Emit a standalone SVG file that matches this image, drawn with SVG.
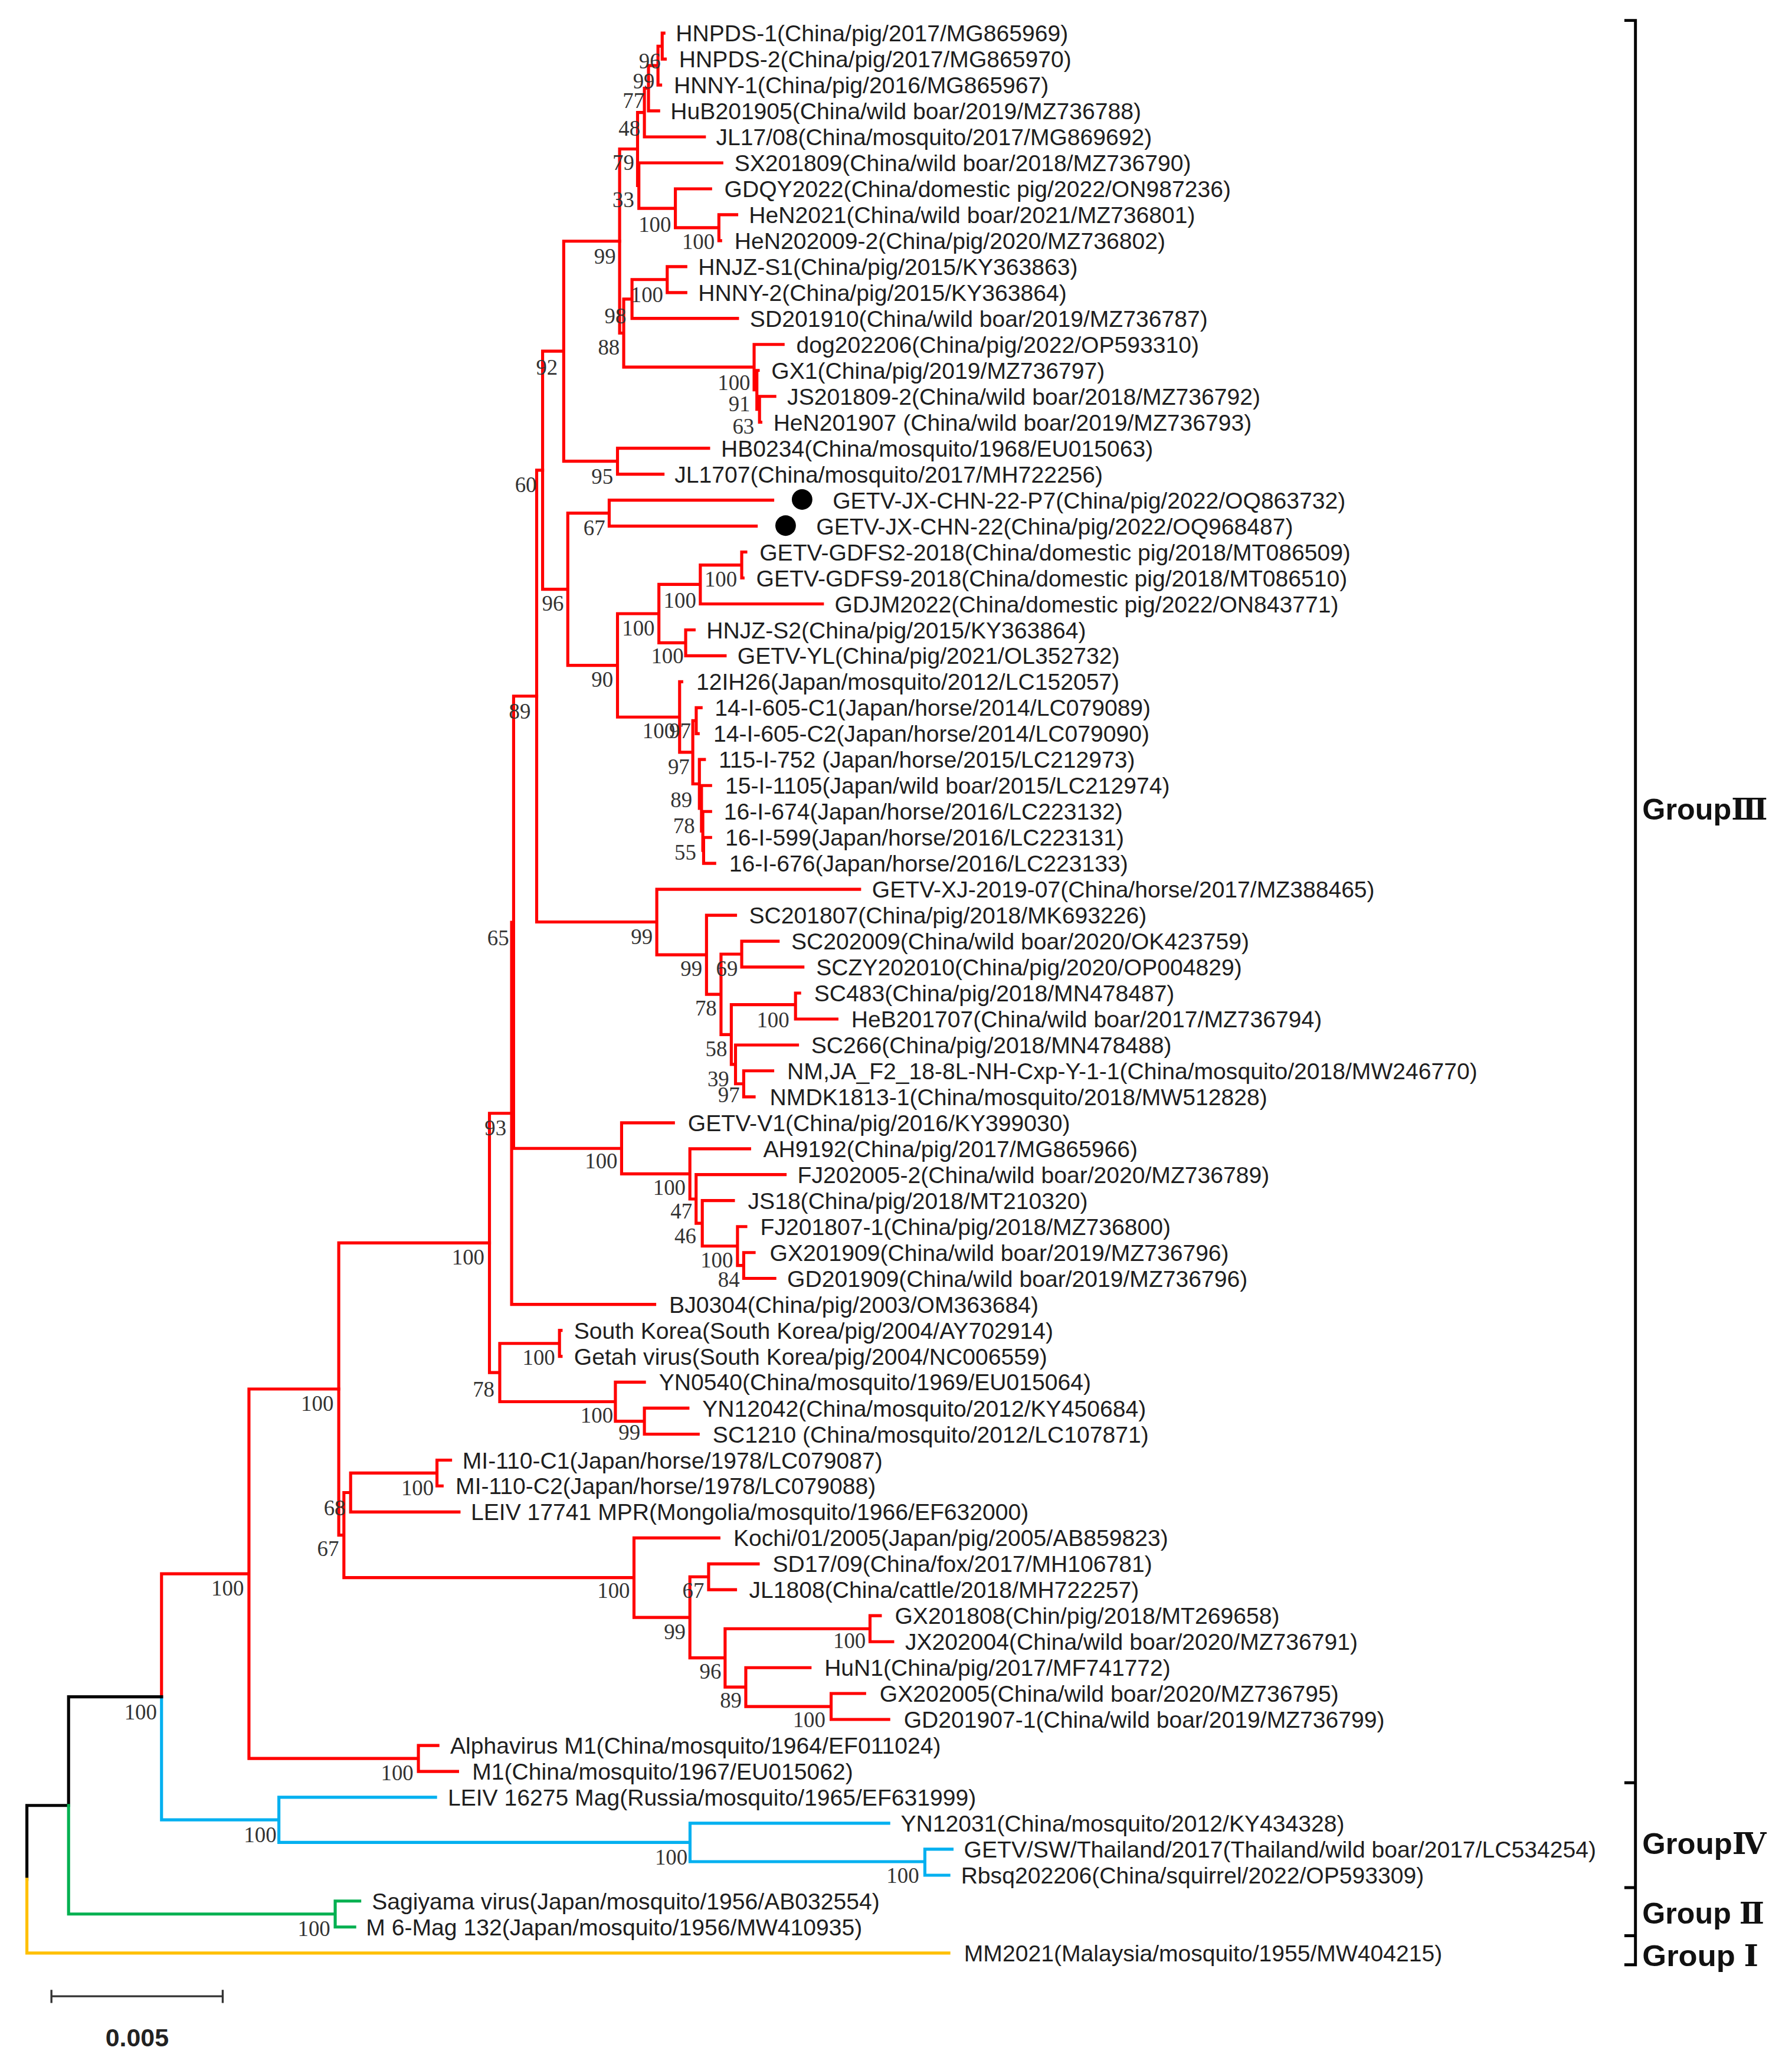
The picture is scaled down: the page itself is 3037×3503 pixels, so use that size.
<svg xmlns="http://www.w3.org/2000/svg" width="3037" height="3503" viewBox="0 0 3037 3503">
<style>
path{fill:none;stroke-width:2.3;stroke-linecap:square;stroke-linejoin:miter}
.r{stroke:#FF0000}.b{stroke:#00B0F0}.g{stroke:#00B050}.y{stroke:#FFC000}.k{stroke:#000}
.lf{font-family:"Liberation Sans",Arial,sans-serif;font-size:17.5px;fill:#1e1e1e}
.bs{font-family:"Liberation Serif","Times New Roman",serif;font-size:16.5px;fill:#333;text-anchor:end}
.grp{font-family:"Liberation Sans",Arial,"Noto Sans CJK SC",sans-serif;font-size:22.6px;font-weight:bold;fill:#111}
.num{font-family:"Liberation Serif","DejaVu Serif","Noto Sans CJK SC",serif}
.sc{font-family:"Liberation Sans",Arial,sans-serif;font-size:19.2px;font-weight:bold;fill:#222;text-anchor:middle}
</style>
<rect x="0" y="0" width="3037" height="3503" fill="#ffffff"/>
<g transform="scale(2.2347)">
<g id="connectors">
<path class="r" d="M502.2 25.1V44.8M502.2 25.1H503.5M502.2 44.8H504.5M499 35V64.5M499 35H502.2M499 64.5H501M491.8 49.7V84.1M491.8 49.7H499M491.8 84.1H499.5M488.7 66.9V103.8M488.7 66.9H491.8M488.7 103.8H534.2M483.5 85.3V140.7M483.5 85.3H488.7M483.5 140.7H484.5M484.5 123.5V158M484.5 123.5H547.4M484.5 158H512.2M512.2 143.2V172.7M512.2 143.2H538.9M512.2 172.7H545.2M545.2 162.8V182.5M545.2 162.8H558.7M545.2 182.5H546.5M469.9 113V252.6M469.9 113H483.5M469.9 252.6H473M473 226.8V278.4M473 226.8H479.3M473 278.4H571.9M479.3 212V241.5M479.3 212H506M479.3 241.5H559.3M506 202.2V221.9M506 202.2H520.1M506 221.9H520.1M571.9 261.2V295.7M571.9 261.2H593.9M571.9 295.7H574M574 280.9V310.4M574 280.9H575M574 310.4H576M576 300.6V320.2M576 300.6H587.6M576 320.2H577"/>
<path class="r" d="M427.5 182.9V349.75M427.5 182.9H469.9M427.5 349.75H468.3M468.3 339.9V359.6M468.3 339.9H537.4M468.3 359.6H502.8M411.5 266.3V446.9M411.5 266.3H427.5M411.5 446.9H430.6M430.6 389.15V504.6M430.6 389.15H462M430.6 504.6H468.3M462 379.3V399M462 379.3H586M462 399H573.5M468.3 465.4V543.8M468.3 465.4H499.7M468.3 543.8H515.4M499.7 443.2V487.5M499.7 443.2H531.1M499.7 487.5H520M531.1 428.5V458M531.1 428.5H562.5M531.1 458H623.7M562.5 418.6V438.3M562.5 418.6H565.6M562.5 438.3H563.5M520 477.7V497.3M520 477.7H526.4M520 497.3H549.9M515.4 517V570.5M515.4 517H517M515.4 570.5H525.4M525.4 546.5V594.5M525.4 546.5H528M525.4 594.5H530.4M528 536.7V556.4M528 536.7H531.7M528 556.4H529.5M530.4 576V613M530.4 576H534.2M530.4 613H532M532 595.7V630.2M532 595.7H538.9M532 630.2H533M533 615.4V644.9M533 615.4H538.9M533 644.9H533.6M533.6 635.1V654.7M533.6 635.1H538.9M533.6 654.7H542"/>
<path class="r" d="M407 356.6V699.2M407 356.6H411.5M407 699.2H498.1M498.1 674.4V724.1M498.1 674.4H651.9M498.1 724.1H535.8M535.8 694.1V754.1M535.8 694.1H557.8M535.8 754.1H546.8M546.8 723.6V784.6M546.8 723.6H562.5M546.8 784.6H554.6M562.5 713.8V733.4M562.5 713.8H590.1M562.5 733.4H608.9M554.6 761.9V807.2M554.6 761.9H603.3M554.6 807.2H557.8M603.3 753.1V772.8M603.3 753.1H606.4M603.3 772.8H634.7M557.8 792.5V821.9M557.8 792.5H604.8M557.8 821.9H564M564 812.1V831.8M564 812.1H586M564 831.8H571.9"/>
<path class="r" d="M389.5 527.9V870.9M389.5 527.9H407M389.5 870.9H471.4M471.4 851.5V890.2M471.4 851.5H510.7M471.4 890.2H523.2M523.2 871.2V909.3M523.2 871.2H568.5M523.2 909.3H527.9M527.9 890.8V927.7M527.9 890.8H595.4M527.9 927.7H532.6M532.6 910.5V945M532.6 910.5H556.2M532.6 945H559.3M559.3 930.2V959.7M559.3 930.2H565.6M559.3 959.7H564M564 949.9V969.5M564 949.9H571.9M564 969.5H587.6M388 699.4V989.2M388 699.4H389.5M388 989.2H496.5"/>
<path class="r" d="M371.2 844.3V1040.9M371.2 844.3H388M371.2 1040.9H379M379 1018.8V1063M379 1018.8H424.3M379 1063H466.7M424.3 1008.9V1028.6M424.3 1008.9H425.5M424.3 1028.6H425.5M466.7 1048.2V1077.8M466.7 1048.2H488.7M466.7 1077.8H488.7M488.7 1067.9V1087.6M488.7 1067.9H521.7M488.7 1087.6H529.5"/>
<path class="r" d="M256.9 942.6V1164.2M256.9 942.6H371.2M256.9 1164.2H260.8M260.8 1131.9V1196.4M260.8 1131.9H265.9M260.8 1196.4H480.8M265.9 1117.1V1146.6M265.9 1117.1H331.4M265.9 1146.6H348.1M331.4 1107.3V1126.9M331.4 1107.3H341.7M331.4 1126.9H335.3M480.8 1166.3V1226.6M480.8 1166.3H545.2M480.8 1226.6H523.2M523.2 1195.8V1257.3M523.2 1195.8H537.4M523.2 1257.3H549.9M537.4 1186V1205.6M537.4 1186H575M537.4 1205.6H557.8M549.9 1235.2V1279.4M549.9 1235.2H659.8M549.9 1279.4H565.6M659.8 1225.3V1245M659.8 1225.3H667.6M659.8 1245H677M565.6 1264.7V1294.2M565.6 1264.7H614.3M565.6 1294.2H630.3M630.3 1284.3V1304M630.3 1284.3H655.7M630.3 1304H674"/>
<path class="r" d="M188.8 1053.4V1333.55M188.8 1053.4H256.9M188.8 1333.55H317.3M317.3 1323.7V1343.4M317.3 1323.7H332.1M317.3 1343.4H347M122.5 1193.5V1286.8M122.5 1193.5H188.8"/>
<path class="b" d="M122.5 1286.8V1380.1H211.5M211.5 1363V1397.2M211.5 1363H330.3M211.5 1397.2H523.3M523.3 1382.7V1411.8M523.3 1382.7H674M523.3 1411.8H701.4M701.4 1402.4V1422.1M701.4 1402.4H722M701.4 1422.1H719.6"/>
<path class="k" d="M52 1286.8H122.5M52 1286.8V1369.2M20.4 1369.2H52M20.4 1369.2V1425.2"/>
<path class="g" d="M52 1369.2V1451.55H254.2M254.2 1441.7V1461.4M254.2 1441.7H272.8M254.2 1461.4H269"/>
<path class="y" d="M20.4 1425.2V1481.1H719.6"/>
</g>
<g id="markers">
<circle cx="608.3" cy="378.8" r="7.8" fill="#000"/>
<circle cx="595.8" cy="398.6" r="7.8" fill="#000"/>
</g>
<g id="leaves" class="lf">
<g id="n1"><text x="512.5" y="31.4">HNPDS-1(China/pig/2017/MG865969)</text></g>
<g id="n2"><text x="515" y="51.1">HNPDS-2(China/pig/2017/MG865970)</text></g>
<g id="n3"><text x="511" y="70.8">HNNY-1(China/pig/2016/MG865967)</text></g>
<g id="n4"><text x="508.5" y="90.4">HuB201905(China/wild boar/2019/MZ736788)</text></g>
<g id="n5"><text x="543" y="110.1">JL17/08(China/mosquito/2017/MG869692)</text></g>
<g id="n6"><text x="557" y="129.8">SX201809(China/wild boar/2018/MZ736790)</text></g>
<g id="n7"><text x="549.3" y="149.5">GDQY2022(China/domestic pig/2022/ON987236)</text></g>
<g id="n8"><text x="568" y="169.1">HeN2021(China/wild boar/2021/MZ736801)</text></g>
<g id="n9"><text x="557" y="188.8">HeN202009-2(China/pig/2020/MZ736802)</text></g>
<g id="n10"><text x="529.5" y="208.5">HNJZ-S1(China/pig/2015/KY363863)</text></g>
<g id="n11"><text x="529.5" y="228.2">HNNY-2(China/pig/2015/KY363864)</text></g>
<g id="n12"><text x="568.7" y="247.8">SD201910(China/wild boar/2019/MZ736787)</text></g>
<g id="n13"><text x="603.9" y="267.5">dog202206(China/pig/2022/OP593310)</text></g>
<g id="n14"><text x="585" y="287.2">GX1(China/pig/2019/MZ736797)</text></g>
<g id="n15"><text x="597" y="306.9">JS201809-2(China/wild boar/2018/MZ736792)</text></g>
<g id="n16"><text x="586.5" y="326.5">HeN201907 (China/wild boar/2019/MZ736793)</text></g>
<g id="n17"><text x="546.8" y="346.2">HB0234(China/mosquito/1968/EU015063)</text></g>
<g id="n18"><text x="511.6" y="365.9">JL1707(China/mosquito/2017/MH722256)</text></g>
<g id="n19"><text x="631.5" y="385.6">GETV-JX-CHN-22-P7(China/pig/2022/OQ863732)</text></g>
<g id="n20"><text x="619" y="405.3">GETV-JX-CHN-22(China/pig/2022/OQ968487)</text></g>
<g id="n21"><text x="576" y="424.9">GETV-GDFS2-2018(China/domestic pig/2018/MT086509)</text></g>
<g id="n22"><text x="573.5" y="444.6">GETV-GDFS9-2018(China/domestic pig/2018/MT086510)</text></g>
<g id="n23"><text x="633" y="464.3">GDJM2022(China/domestic pig/2022/ON843771)</text></g>
<g id="n24"><text x="535.8" y="484">HNJZ-S2(China/pig/2015/KY363864)</text></g>
<g id="n25"><text x="559.3" y="503.6">GETV-YL(China/pig/2021/OL352732)</text></g>
<g id="n26"><text x="528" y="523.3">12IH26(Japan/mosquito/2012/LC152057)</text></g>
<g id="n27"><text x="542" y="543">14-I-605-C1(Japan/horse/2014/LC079089)</text></g>
<g id="n28"><text x="541" y="562.7">14-I-605-C2(Japan/horse/2014/LC079090)</text></g>
<g id="n29"><text x="545" y="582.3">115-I-752 (Japan/horse/2015/LC212973)</text></g>
<g id="n30"><text x="550" y="602">15-I-1105(Japan/wild boar/2015/LC212974)</text></g>
<g id="n31"><text x="549" y="621.7">16-I-674(Japan/horse/2016/LC223132)</text></g>
<g id="n32"><text x="550" y="641.4">16-I-599(Japan/horse/2016/LC223131)</text></g>
<g id="n33"><text x="553" y="661">16-I-676(Japan/horse/2016/LC223133)</text></g>
<g id="n34"><text x="661.3" y="680.7">GETV-XJ-2019-07(China/horse/2017/MZ388465)</text></g>
<g id="n35"><text x="568.1" y="700.4">SC201807(China/pig/2018/MK693226)</text></g>
<g id="n36"><text x="600.1" y="720.1">SC202009(China/wild boar/2020/OK423759)</text></g>
<g id="n37"><text x="619" y="739.7">SCZY202010(China/pig/2020/OP004829)</text></g>
<g id="n38"><text x="617.4" y="759.4">SC483(China/pig/2018/MN478487)</text></g>
<g id="n39"><text x="645.6" y="779.1">HeB201707(China/wild boar/2017/MZ736794)</text></g>
<g id="n40"><text x="615.2" y="798.8">SC266(China/pig/2018/MN478488)</text></g>
<g id="n41"><text x="597" y="818.4">NM,JA_F2_18-8L-NH-Cxp-Y-1-1(China/mosquito/2018/MW246770)</text></g>
<g id="n42"><text x="583.8" y="838.1">NMDK1813-1(China/mosquito/2018/MW512828)</text></g>
<g id="n43"><text x="521.7" y="857.8">GETV-V1(China/pig/2016/KY399030)</text></g>
<g id="n44"><text x="578.8" y="877.5">AH9192(China/pig/2017/MG865966)</text></g>
<g id="n45"><text x="604.8" y="897.1">FJ202005-2(China/wild boar/2020/MZ736789)</text></g>
<g id="n46"><text x="567.2" y="916.8">JS18(China/pig/2018/MT210320)</text></g>
<g id="n47"><text x="576.6" y="936.5">FJ201807-1(China/pig/2018/MZ736800)</text></g>
<g id="n48"><text x="583.8" y="956.2">GX201909(China/wild boar/2019/MZ736796)</text></g>
<g id="n49"><text x="597" y="975.8">GD201909(China/wild boar/2019/MZ736796)</text></g>
<g id="n50"><text x="507.5" y="995.5">BJ0304(China/pig/2003/OM363684)</text></g>
<g id="n51"><text x="435.3" y="1015.2">South Korea(South Korea/pig/2004/AY702914)</text></g>
<g id="n52"><text x="435.3" y="1034.9">Getah virus(South Korea/pig/2004/NC006559)</text></g>
<g id="n53"><text x="499.7" y="1054.5">YN0540(China/mosquito/1969/EU015064)</text></g>
<g id="n54"><text x="532.6" y="1074.2">YN12042(China/mosquito/2012/KY450684)</text></g>
<g id="n55"><text x="540.5" y="1093.9">SC1210 (China/mosquito/2012/LC107871)</text></g>
<g id="n56"><text x="350.7" y="1113.6">MI-110-C1(Japan/horse/1978/LC079087)</text></g>
<g id="n57"><text x="345.5" y="1133.2">MI-110-C2(Japan/horse/1978/LC079088)</text></g>
<g id="n58"><text x="357.1" y="1152.9">LEIV 17741 MPR(Mongolia/mosquito/1966/EF632000)</text></g>
<g id="n59"><text x="556.2" y="1172.6">Kochi/01/2005(Japan/pig/2005/AB859823)</text></g>
<g id="n60"><text x="586" y="1192.3">SD17/09(China/fox/2017/MH106781)</text></g>
<g id="n61"><text x="568.1" y="1211.9">JL1808(China/cattle/2018/MH722257)</text></g>
<g id="n62"><text x="678.6" y="1231.6">GX201808(Chin/pig/2018/MT269658)</text></g>
<g id="n63"><text x="686.4" y="1251.3">JX202004(China/wild boar/2020/MZ736791)</text></g>
<g id="n64"><text x="625.2" y="1271">HuN1(China/pig/2017/MF741772)</text></g>
<g id="n65"><text x="667.1" y="1290.6">GX202005(China/wild boar/2020/MZ736795)</text></g>
<g id="n66"><text x="685.4" y="1310.3">GD201907-1(China/wild boar/2019/MZ736799)</text></g>
<g id="n67"><text x="341.4" y="1330">Alphavirus M1(China/mosquito/1964/EF011024)</text></g>
<g id="n68"><text x="358.1" y="1349.7">M1(China/mosquito/1967/EU015062)</text></g>
<g id="n69"><text x="339.6" y="1369.3">LEIV 16275 Mag(Russia/mosquito/1965/EF631999)</text></g>
<g id="n70"><text x="683.1" y="1389">YN12031(China/mosquito/2012/KY434328)</text></g>
<g id="n71"><text x="731" y="1408.7">GETV/SW/Thailand/2017(Thailand/wild boar/2017/LC534254)</text></g>
<g id="n72"><text x="728.8" y="1428.4">Rbsq202206(China/squirrel/2022/OP593309)</text></g>
<g id="n73"><text x="282" y="1448">Sagiyama virus(Japan/mosquito/1956/AB032554)</text></g>
<g id="n74"><text x="277.6" y="1467.7">M 6-Mag 132(Japan/mosquito/1956/MW410935)</text></g>
<g id="n75"><text x="731.1" y="1487.4">MM2021(Malaysia/mosquito/1955/MW404215)</text></g>
</g>
<g id="bootstrap" class="bs">
<text x="501" y="52">96</text><text x="496.5" y="67">99</text><text x="488.7" y="82">77</text><text x="485.6" y="103">48</text>
<text x="481" y="129">79</text><text x="481" y="157">33</text><text x="509" y="176">100</text><text x="542" y="189">100</text>
<text x="467" y="200">99</text><text x="503" y="229">100</text><text x="475" y="245">98</text><text x="470" y="269">88</text>
<text x="423" y="284">92</text><text x="569" y="296">100</text><text x="569" y="312">91</text><text x="572" y="329">63</text>
<text x="465" y="367">95</text><text x="407" y="373">60</text><text x="459" y="406">67</text><text x="559" y="445">100</text>
<text x="427.5" y="463">96</text><text x="528" y="461">100</text><text x="496.5" y="482">100</text><text x="518.5" y="503">100</text>
<text x="465" y="521">90</text><text x="402.5" y="545">89</text><text x="512" y="560">100</text><text x="524" y="560">97</text>
<text x="523" y="587">97</text><text x="525" y="612">89</text><text x="527" y="632">78</text><text x="528" y="652">55</text>
<text x="495" y="716">99</text><text x="386" y="717">65</text><text x="532.6" y="740">99</text><text x="559.5" y="740">69</text>
<text x="543.6" y="770">78</text><text x="598.6" y="779">100</text><text x="551.5" y="801">58</text><text x="553" y="824">39</text>
<text x="561" y="836">97</text><text x="384" y="861">93</text><text x="468.3" y="886">100</text><text x="520" y="906">100</text>
<text x="525" y="924">47</text><text x="528" y="943">46</text><text x="556" y="961">100</text><text x="561" y="976">84</text>
<text x="367.4" y="959">100</text><text x="421" y="1035">100</text><text x="375" y="1059">78</text><text x="465" y="1079">100</text>
<text x="485.6" y="1092">99</text><text x="253" y="1070">100</text><text x="329" y="1134">100</text><text x="262" y="1149">68</text>
<text x="257" y="1180">67</text><text x="477.7" y="1212">100</text><text x="534" y="1212">67</text><text x="520" y="1243">99</text>
<text x="656.6" y="1250">100</text><text x="547" y="1273">96</text><text x="562.5" y="1295">89</text><text x="626" y="1310">100</text>
<text x="185" y="1210">100</text><text x="119" y="1304">100</text><text x="313.6" y="1350">100</text><text x="209.7" y="1397">100</text>
<text x="521.4" y="1414">100</text><text x="697" y="1428">100</text><text x="250.5" y="1468">100</text>
</g>
<g id="groups">
<path class="k" style="stroke-width:2.2" d="M1240.3 15.5V1490M1233 15.5H1240.3M1233 1352H1240.3M1233 1431.5H1240.3M1233 1468H1240.3M1233 1490H1240.3"/>
<g id="groupIII"><text class="grp" x="1245.5" y="621.5" textLength="95" lengthAdjust="spacingAndGlyphs">Group<tspan class="num">Ⅲ</tspan></text></g>
<g id="groupIV"><text class="grp" x="1245.5" y="1406" textLength="94" lengthAdjust="spacingAndGlyphs">Group<tspan class="num">Ⅳ</tspan></text></g>
<g id="groupII"><text class="grp" x="1245.5" y="1459" textLength="92.5" lengthAdjust="spacingAndGlyphs">Group <tspan class="num">Ⅱ</tspan></text></g>
<g id="groupI"><text class="grp" x="1245.5" y="1491" textLength="88" lengthAdjust="spacingAndGlyphs">Group <tspan class="num">Ⅰ</tspan></text></g>
</g>
<g id="scalebar">
<path style="stroke:#333;stroke-width:1.5;stroke-linecap:butt" d="M39 1513.9H168.9M39 1509V1519M168.9 1509V1519"/>
<text class="sc" x="104" y="1552">0.005</text>
</g>
</g>
</svg>
